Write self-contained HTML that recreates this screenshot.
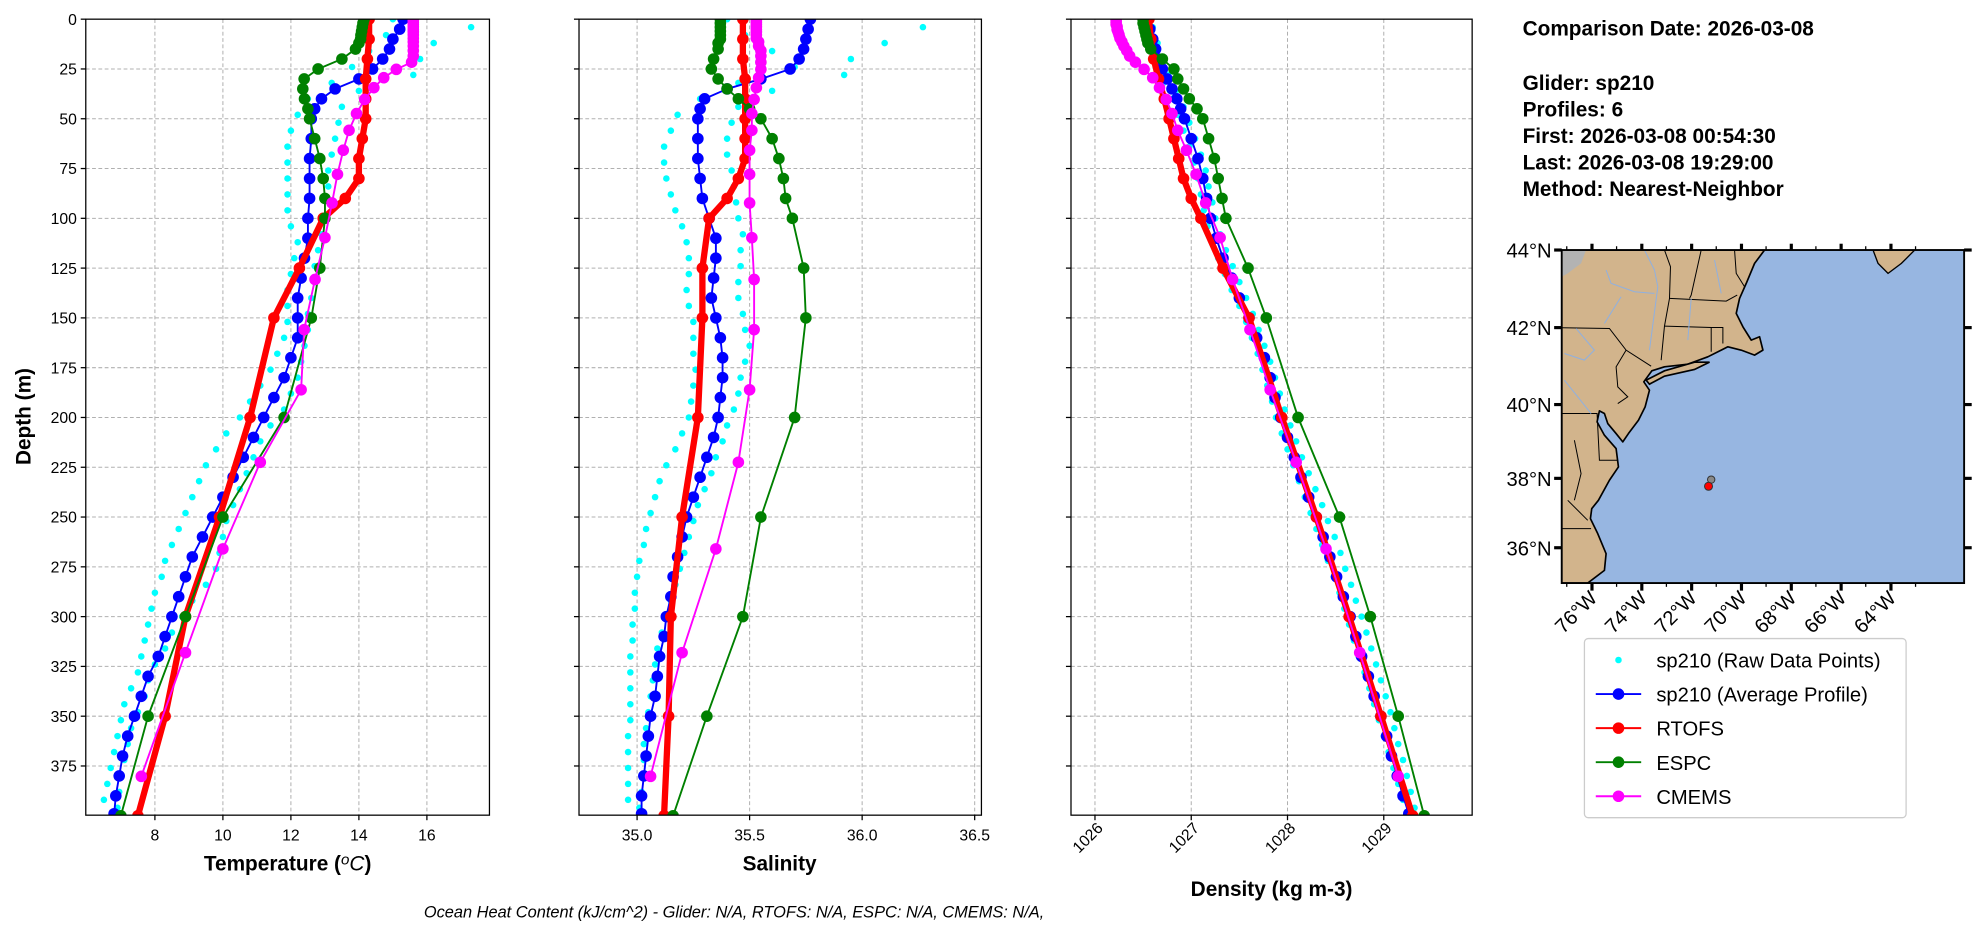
<!DOCTYPE html>
<html><head><meta charset="utf-8">
<style>
html,body{margin:0;padding:0;background:#fff;}
svg{display:block;font-family:"Liberation Sans","DejaVu Sans",sans-serif;}
</style></head>
<body>
<svg id="fig" width="1978" height="934" viewBox="0 0 1568 740" xmlns="http://www.w3.org/2000/svg">
<g id="plots"></g>
<g id="info" font-weight="bold" font-size="16.5">
<text x="1207" y="28">Comparison Date: 2026-03-08</text>
<text x="1207" y="71">Glider: sp210</text>
<text x="1207" y="92">Profiles: 6</text>
<text x="1207" y="113">First: 2026-03-08 00:54:30</text>
<text x="1207" y="134">Last: 2026-03-08 19:29:00</text>
<text x="1207" y="155">Method: Nearest-Neighbor</text>
</g>
<text x="336" y="727" font-size="13" font-style="italic">Ocean Heat Content (kJ/cm^2) - Glider: N/A,  RTOFS: N/A,  ESPC: N/A,  CMEMS: N/A,</text>
<text transform="translate(24,330) rotate(-90)" text-anchor="middle" font-weight="bold" font-size="16.5">Depth (m)</text>
<g id="map"></g>
<g id="legend"></g>
</svg>
<script>
// ---------- data ----------
const rawDepthA=[0,8,16,24,32,40,48,56,64,72,80,88,96,104,112,120,128,136,144,152,160,168,176,184,192,200,208,216,224,232,240,248,256,264,272,280,288,296,304,312,320,328,336,344,352,360,368,376,384,392];
const rawDepthB=[4,12,20,28,36,44,52,60,68,76,84,92,100,108,116,124,132,140,148,156,164,172,180,188,196,204,212,220,228,236,244,252,260,268,276,284,292,300,308,316,324,332,340,348,356,364,372,380,388,396];
const rawTempA=[15.0,14.8,14.3,13.8,13.2,12.5,12.2,12.0,11.9,11.9,11.9,11.9,11.9,12.0,12.2,12.1,12.0,11.9,11.9,11.9,11.8,11.6,11.4,11.1,10.8,10.5,10.1,9.8,9.5,9.3,9.1,8.9,8.7,8.5,8.3,8.2,8.0,7.9,7.8,7.7,7.6,7.5,7.3,7.1,7.0,6.9,6.8,6.7,6.6,6.5];
const rawTempB=[17.3,16.2,15.8,15.6,14.0,13.5,13.4,13.3,13.2,13.1,13.1,13.2,13.0,12.9,12.8,12.7,12.7,12.6,12.5,12.5,12.4,12.3,12.2,12.0,11.8,11.4,11.1,10.9,10.7,10.5,10.3,10.1,10.0,9.9,9.8,9.5,9.1,8.8,8.5,8.3,8.0,7.8,7.7,7.5,7.3,7.2,7.1,7.0,6.95,6.9];
const rawSalA=[35.4,35.48,35.6,35.7,35.45,35.28,35.18,35.15,35.12,35.12,35.13,35.15,35.17,35.2,35.22,35.23,35.23,35.22,35.23,35.25,35.25,35.25,35.26,35.25,35.24,35.23,35.2,35.17,35.13,35.1,35.08,35.06,35.04,35.03,35.01,35.0,34.99,34.99,34.98,34.98,34.97,34.97,34.97,34.97,34.97,34.96,34.96,34.96,34.96,34.96];
const rawSalB=[36.27,36.1,35.95,35.92,35.6,35.45,35.42,35.4,35.4,35.42,35.43,35.44,35.45,35.47,35.46,35.46,35.45,35.45,35.47,35.48,35.5,35.48,35.46,35.45,35.43,35.4,35.38,35.35,35.33,35.3,35.27,35.25,35.23,35.21,35.19,35.17,35.15,35.13,35.11,35.09,35.08,35.07,35.06,35.05,35.04,35.03,35.03,35.02,35.02,35.01];
const rawDenA=[1026.5,1026.53,1026.58,1026.63,1026.71,1026.8,1026.86,1026.92,1026.98,1027.03,1027.07,1027.1,1027.13,1027.17,1027.22,1027.28,1027.35,1027.42,1027.5,1027.57,1027.63,1027.69,1027.74,1027.79,1027.84,1027.88,1027.94,1028.0,1028.06,1028.12,1028.18,1028.24,1028.3,1028.36,1028.42,1028.48,1028.54,1028.59,1028.64,1028.69,1028.74,1028.8,1028.85,1028.9,1028.95,1029.0,1029.05,1029.1,1029.15,1029.2];
const rawDenB=[1026.6,1026.65,1026.7,1026.76,1026.84,1026.92,1026.98,1027.04,1027.1,1027.15,1027.18,1027.22,1027.25,1027.3,1027.36,1027.43,1027.5,1027.57,1027.64,1027.7,1027.76,1027.82,1027.87,1027.92,1027.97,1028.03,1028.09,1028.15,1028.22,1028.29,1028.36,1028.42,1028.49,1028.55,1028.6,1028.66,1028.71,1028.77,1028.82,1028.87,1028.92,1028.97,1029.02,1029.07,1029.11,1029.15,1029.2,1029.24,1029.28,1029.32];

const gliderDepth=[0,5,10,15,20,25,30,35,40,45,50,60,70,80,90,100,110,120,130,140,150,160,170,180,190,200,210,220,230,240,250,260,270,280,290,300,310,320,330,340,350,360,370,380,390,399];
const gliderTemp=[15.3,15.2,15.0,14.9,14.7,14.4,14.0,13.3,12.9,12.7,12.6,12.6,12.55,12.55,12.55,12.5,12.5,12.4,12.3,12.2,12.2,12.2,12.0,11.8,11.5,11.2,10.9,10.6,10.3,10.0,9.7,9.4,9.1,8.9,8.7,8.5,8.3,8.1,7.8,7.6,7.4,7.2,7.05,6.95,6.85,6.8];
const gliderSal=[35.77,35.76,35.75,35.74,35.72,35.68,35.55,35.4,35.3,35.28,35.27,35.27,35.27,35.28,35.29,35.32,35.35,35.35,35.34,35.33,35.35,35.37,35.38,35.38,35.37,35.36,35.34,35.31,35.28,35.25,35.22,35.2,35.18,35.16,35.15,35.13,35.12,35.1,35.09,35.08,35.06,35.05,35.04,35.03,35.02,35.02];
const gliderDen=[1026.55,1026.57,1026.6,1026.63,1026.66,1026.7,1026.75,1026.8,1026.85,1026.89,1026.93,1027.0,1027.07,1027.12,1027.16,1027.2,1027.26,1027.33,1027.42,1027.5,1027.6,1027.68,1027.76,1027.82,1027.87,1027.93,1028.0,1028.07,1028.14,1028.22,1028.3,1028.37,1028.44,1028.51,1028.58,1028.65,1028.71,1028.77,1028.84,1028.9,1028.97,1029.03,1029.08,1029.14,1029.2,1029.26];

const rtofsDepth=[0,10,20,30,40,50,60,70,80,90,100,125,150,200,250,300,350,400];
const rtofsTemp=[14.3,14.3,14.25,14.2,14.2,14.2,14.1,14.0,14.0,13.6,12.95,12.25,11.5,10.8,9.9,8.9,8.3,7.5];
const rtofsSal=[35.47,35.47,35.47,35.48,35.48,35.48,35.48,35.48,35.45,35.4,35.32,35.29,35.29,35.27,35.2,35.15,35.14,35.12];
const rtofsDen=[1026.56,1026.58,1026.61,1026.66,1026.72,1026.77,1026.82,1026.87,1026.92,1027.0,1027.1,1027.33,1027.6,1027.94,1028.3,1028.64,1028.97,1029.3];

const espcDepth=[0,2,4,6,8,10,12,15,20,25,30,35,40,45,50,60,70,80,90,100,125,150,200,250,300,350,400];
const espcTemp=[14.15,14.12,14.1,14.08,14.06,14.05,14.0,13.9,13.5,12.8,12.39,12.35,12.4,12.5,12.55,12.7,12.85,12.95,13.0,13.0,12.85,12.6,11.8,10.0,8.9,7.8,7.0];
const espcSal=[35.37,35.37,35.37,35.37,35.37,35.37,35.36,35.36,35.34,35.33,35.36,35.4,35.45,35.5,35.55,35.6,35.63,35.65,35.66,35.69,35.74,35.75,35.7,35.55,35.47,35.31,35.16];
const espcDen=[1026.5,1026.5,1026.51,1026.52,1026.53,1026.54,1026.55,1026.58,1026.7,1026.82,1026.86,1026.92,1026.98,1027.06,1027.12,1027.18,1027.24,1027.28,1027.32,1027.36,1027.59,1027.78,1028.11,1028.54,1028.86,1029.15,1029.42];

const cmemsDepth=[0.5,1.5,2.6,3.8,5.1,6.4,7.9,9.6,11.4,13.5,15.8,18.5,21.6,25.2,29.4,34.4,40.3,47.4,55.8,65.8,77.9,92.3,109.7,130.7,155.9,186.1,222.5,266.0,318.1,380.2];
const cmemsTemp=[15.6,15.6,15.6,15.6,15.6,15.6,15.6,15.6,15.6,15.6,15.6,15.6,15.55,15.1,14.73,14.44,14.17,13.93,13.71,13.54,13.37,13.21,13.0,12.71,12.39,12.3,11.1,10.0,8.9,7.6];
const cmemsSal=[35.53,35.53,35.53,35.53,35.53,35.53,35.53,35.53,35.54,35.54,35.55,35.55,35.55,35.55,35.54,35.53,35.52,35.51,35.51,35.5,35.5,35.5,35.51,35.52,35.52,35.5,35.45,35.35,35.2,35.06];
const cmemsDen=[1026.22,1026.22,1026.22,1026.23,1026.23,1026.24,1026.25,1026.26,1026.28,1026.3,1026.33,1026.36,1026.42,1026.51,1026.6,1026.67,1026.74,1026.8,1026.86,1026.95,1027.05,1027.15,1027.3,1027.43,1027.61,1027.82,1028.09,1028.4,1028.75,1029.15];

const depthTicks=[0,25,50,75,100,125,150,175,200,225,250,275,300,325,350,375];
const tempTicks=[8,10,12,14,16];
const salTicks=[35.0,35.5,36.0,36.5];
const denTicks=[1026,1027,1028,1029];

// ---------- drawing ----------
const NS="http://www.w3.org/2000/svg";
function mk(tag,attrs,parent){const e=document.createElementNS(NS,tag);for(const k in attrs)e.setAttribute(k,attrs[k]);parent.appendChild(e);return e;}
const Y0=15,Y1=646,DMIN=0,DMAX=399.7;
function yS(d){return Y0+(d-DMIN)/(DMAX-DMIN)*(Y1-Y0);}
const plots=document.getElementById('plots');

const panels=[
 {name:'temperature',x0:68,x1:388,min:5.967,max:17.84,ticks:tempTicks,fmt:v=>String(v),labelSup:true,lx:228,ly:690,rot:false,
  raw:[rawTempA,rawTempB],g:gliderTemp,r:rtofsTemp,e:espcTemp,c:cmemsTemp,ylab:true},
 {name:'salinity',x0:459,x1:778,min:34.742,max:36.530,ticks:salTicks,fmt:v=>v.toFixed(1),label:'Salinity',lx:618,ly:690,rot:false,
  raw:[rawSalA,rawSalB],g:gliderSal,r:rtofsSal,e:espcSal,c:cmemsSal},
 {name:'density',x0:849,x1:1167,min:1025.751,max:1029.918,ticks:denTicks,fmt:v=>String(v),label:'Density (kg m-3)',lx:1008,ly:710,rot:true,
  raw:[rawDenA,rawDenB],g:gliderDen,r:rtofsDen,e:espcDen,c:cmemsDen}
];

panels.forEach(p=>{
  const xS=v=>p.x0+(v-p.min)/(p.max-p.min)*(p.x1-p.x0);
  const g=mk('g',{},plots);
  
  
  const grid=mk('g',{stroke:'#b0b0b0','stroke-width':0.8,'stroke-dasharray':'3,2'},g);
  
  
  depthTicks.forEach(d=>{if(d>0)mk('line',{x1:p.x0,x2:p.x1,y1:yS(d),y2:yS(d)},grid);});
  p.ticks.forEach(t=>mk('line',{x1:xS(t),x2:xS(t),y1:Y0,y2:Y1},grid));
  const cid='clip-'+p.name;
  const cp=mk('clipPath',{id:cid},g);mk('rect',{x:p.x0,y:Y0,width:p.x1-p.x0,height:Y1-Y0},cp);
  const data=mk('g',{'clip-path':'url(#'+cid+')'},g);
  const rawG=mk('g',{fill:'#00ffff'},data);
  
  
  [[rawDepthA,p.raw[0]],[rawDepthB,p.raw[1]]].forEach(([ds,vs])=>{
    ds.forEach((d,i)=>{const c=mk('circle',{cx:xS(vs[i]),cy:yS(d),r:2.6},rawG);
      
      });
  });
  function series(ds,vs,color,lw,r,nm){
    const sg=mk('g',{},data);
    
    
    const pts=ds.map((d,i)=>xS(vs[i]).toFixed(1)+','+yS(d).toFixed(1)).join(' ');
    mk('polyline',{points:pts,fill:'none',stroke:color,'stroke-width':lw,'stroke-linejoin':'round'},sg);
    ds.forEach((d,i)=>{const c=mk('circle',{cx:xS(vs[i]),cy:yS(d),r:r,fill:color},sg);
      
      });
  }
  series(gliderDepth,p.g,'#0000ff',1.5,4.6,'glider-average');
  series(rtofsDepth,p.r,'#ff0000',5,4.6,'rtofs');
  series(espcDepth,p.e,'#008000',1.5,4.6,'espc');
  series(cmemsDepth,p.c,'#ff00ff',1.5,4.6,'cmems');
  const fr=mk('rect',{x:p.x0,y:Y0,width:p.x1-p.x0,height:Y1-Y0,fill:'none',stroke:'#000','stroke-width':1},g);
  
  
  depthTicks.forEach(d=>{
    mk('line',{x1:p.x0-4,x2:p.x0,y1:yS(d),y2:yS(d),stroke:'#000','stroke-width':1},g);
    if(p.ylab){const t=mk('text',{x:p.x0-7,y:yS(d)+4.5,'text-anchor':'end','font-size':12.5},g);t.textContent=d;
      
      }
  });
  p.ticks.forEach(v=>{
    const x=xS(v);
    mk('line',{x1:x,x2:x,y1:Y1,y2:Y1+4,stroke:'#000','stroke-width':1},g);
    let t;
    if(p.rot){t=mk('text',{transform:'translate('+(x+7)+','+(Y1+11)+') rotate(-45)','text-anchor':'end','font-size':12.5},g);}
    else{t=mk('text',{x:x,y:Y1+20,'text-anchor':'middle','font-size':12.5},g);}
    t.textContent=p.fmt(v);
    
    
  });
  const lab=mk('text',{x:p.lx,y:p.ly,'text-anchor':'middle','font-size':16.5,'font-weight':'bold'},g);
  
  
  if(p.labelSup){lab.textContent='Temperature (';const ts=document.createElementNS(NS,'tspan');ts.setAttribute('font-style','italic');ts.setAttribute('font-weight','normal');ts.setAttribute('dy','-5');ts.setAttribute('font-size','12');ts.textContent='o';lab.appendChild(ts);const t2=document.createElementNS(NS,'tspan');t2.setAttribute('dy','5');t2.setAttribute('font-style','italic');t2.setAttribute('font-weight','normal');t2.textContent='C';lab.appendChild(t2);const t3=document.createElementNS(NS,'tspan');t3.textContent=')';lab.appendChild(t3);}
  else lab.textContent=p.label;
});

// ---------- map ----------
const map=document.getElementById('map');
const mx0=1238,mx1=1557,my0=198,my1=462;
const ms=mk('svg',{x:mx0,y:my0,width:mx1-mx0,height:my1-my0,viewBox:'22 30 1206 998',preserveAspectRatio:'none'},map);
mk('rect',{x:22,y:30,width:1206,height:998,fill:'#97b6e1'},ms);
const land=mk('polygon',{fill:'#d2b48c',stroke:'#000','stroke-width':5,'stroke-linejoin':'round',points:'22,30 630,30 600,70 575,130 555,175 545,220 565,260 590,300 615,290 625,330 600,345 560,330 520,320 500,330 460,350 400,372 330,380 292,392 268,425 285,450 272,500 252,540 222,580 205,605 185,580 160,550 150,520 135,512 128,545 150,585 185,625 192,680 165,720 132,780 112,805 108,835 130,880 155,940 150,990 100,1028 22,1028'},ms);


mk('polygon',{fill:'#d2b48c',stroke:'#000','stroke-width':5,points:'275,420 330,392 420,366 465,366 420,388 330,408 285,432'},ms);
mk('polygon',{fill:'#d2b48c',stroke:'#000','stroke-width':4,points:'955,30 1080,30 1040,70 1000,100 970,70'},ms);
mk('polygon',{fill:'#b3b3b3',points:'22,30 95,30 80,70 40,100 22,110'},ms);
const bord=mk('g',{fill:'none',stroke:'#000','stroke-width':3},ms);
['M22,263 L165,265 L215,330 L290,378','M330,30 L348,80 L345,175 L330,258 L320,360','M345,175 L515,183 L548,165','M330,258 L470,262 L470,335','M470,262 L505,262 L505,310','M440,30 L410,165 L405,175','M540,30 L545,100 L570,140','M215,330 L185,380 L190,440 L220,470 L190,490','M22,520 L128,520 L135,660 L190,660','M22,865 L110,865','M60,600 L80,700 L60,780','M40,780 L100,840'].forEach(d=>mk('path',{d:d},bord));
const riv=mk('g',{fill:'none',stroke:'#8fb0e0','stroke-width':3},ms);
['M155,90 L170,130 L240,155 L300,160','M270,30 L300,90 L310,140 L285,330','M200,170 L150,250','M65,265 L120,330 L90,360 L30,340','M30,420 L70,470 L110,520','M410,175 L400,300','M480,60 L500,160'].forEach(d=>mk('path',{d:d},riv));
mk('circle',{cx:470,cy:718,r:11,fill:'#888',stroke:'#333','stroke-width':3},ms);
const dot2=mk('circle',{cx:462,cy:738,r:12,fill:'#ff0000',stroke:'#333','stroke-width':3},ms);


mk('rect',{x:mx0,y:my0,width:mx1-mx0,height:my1-my0,fill:'none',stroke:'#000','stroke-width':1.5},map);
const latTicks=[44,42,40,38,36];const latY=[198,259.5,320.5,379,434];
latTicks.forEach((l,i)=>{
  mk('line',{x1:mx0-6,x2:mx0,y1:latY[i],y2:latY[i],stroke:'#000','stroke-width':2.5},map);
  mk('line',{x1:mx1,x2:mx1+6,y1:latY[i],y2:latY[i],stroke:'#000','stroke-width':2.5},map);
  const t=mk('text',{x:mx0-8,y:latY[i]+6,'text-anchor':'end','font-size':16},map);t.textContent=l+'°N';
  
  
});
const lonTicks=[76,74,72,70,68,66,64];
lonTicks.forEach((l,i)=>{
  const x=1262+i*39.5;
  mk('line',{x1:x,x2:x,y1:my1,y2:my1+6,stroke:'#000','stroke-width':2.5},map);
  mk('line',{x1:x,x2:x,y1:my0-5,y2:my0,stroke:'#000','stroke-width':2.5},map);
  const t=mk('text',{transform:'translate('+(x+5)+','+(my1+13)+') rotate(-45)','text-anchor':'end','font-size':16},map);t.textContent=l+'°W';
  
  
});
for(let i=0;i<15;i++){const x=1242+i*19.75;if(x<mx1){mk('line',{x1:x,x2:x,y1:my1,y2:my1+3,stroke:'#000'},map);mk('line',{x1:x,x2:x,y1:my0-3,y2:my0,stroke:'#000'},map);}}

// ---------- legend ----------
const lg=document.getElementById('legend');
mk('rect',{x:1256,y:506,width:255,height:142,rx:3,fill:'#fff',stroke:'#ccc','stroke-width':1},lg);
const entries=[['sp210 (Raw Data Points)','#00ffff',true],['sp210 (Average Profile)','#0000ff'],['RTOFS','#ff0000'],['ESPC','#008000'],['CMEMS','#ff00ff']];
entries.forEach((e,i)=>{
  const y=523+i*27;
  const eg=mk('g',{},lg);
  
  
  if(e[2]){mk('circle',{cx:1283,cy:y,r:2.6,fill:e[1]},eg);}
  else{mk('line',{x1:1265,x2:1301,y1:y,y2:y,stroke:e[1],'stroke-width':1.5},eg);mk('circle',{cx:1283,cy:y,r:4.6,fill:e[1]},eg);}
  const t=mk('text',{x:1313,y:y+6,'font-size':16},eg);t.textContent=e[0];
});
</script>
</body></html>
